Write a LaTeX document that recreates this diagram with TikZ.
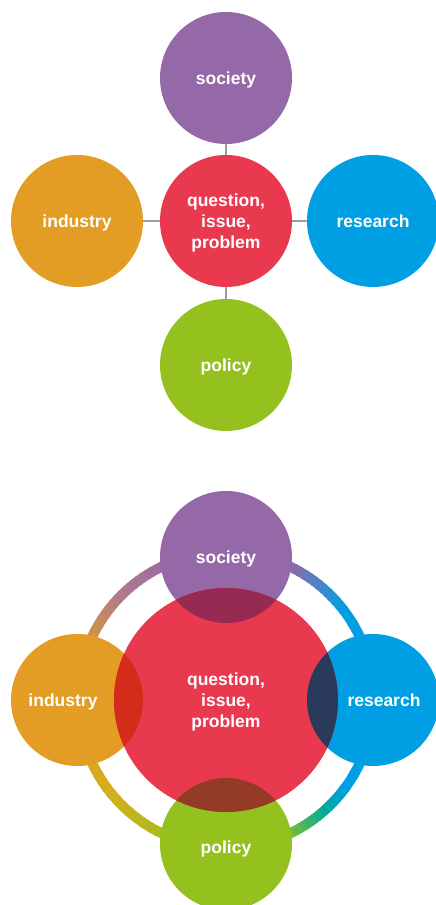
\documentclass[tikz,border=0pt]{standalone}
\usepackage{fontspec}
\setmainfont{Liberation Sans}

\definecolor{socpurple}{HTML}{9569A8}
\definecolor{qred}{HTML}{E8394F}
\definecolor{indorange}{HTML}{E39D24}
\definecolor{resblue}{HTML}{009FE3}
\definecolor{polgreen}{HTML}{95C11F}
\definecolor{linkgray}{HTML}{9D9D9D}
\definecolor{ringteal}{HTML}{00A99D}
\definecolor{ringyellow}{HTML}{D2AF1E}
\definecolor{ringmauve}{HTML}{B07B8C}
\definecolor{socq}{HTML}{962A52}
\definecolor{indq}{HTML}{D42B1A}
\definecolor{resq}{HTML}{293A5A}
\definecolor{polq}{HTML}{943B26}

% one stretch of the ring, from angle #1 to #2, colour #3 to #4
\newcommand{\ringpart}[4]{%
  \foreach \i in {0,...,11}{%
    \pgfmathsetmacro{\rings}{#1+(#2-#1)*\i/12}%
    \pgfmathsetmacro{\ringe}{#1+(#2-#1)*(\i+1.4)/12}%
    \pgfmathtruncatemacro{\ringp}{100*(\i+0.5)/12}%
    \draw[ring line,draw={#4!\ringp!#3}] ([shift={(\rings:148pt)}]ringc) arc[start angle=\rings,end angle=\ringe,radius=148pt];
  }}

\begin{document}
\begin{tikzpicture}[x=1pt,y=1pt]
            \tikzstyle{topic node}=[circle,inner sep=0,minimum size=132pt,text=white,text depth=0pt,font=\bfseries\fontsize{17.5}{21}\selectfont,align=center];
            \tikzstyle{topic text}=[inner sep=0,text=white,text depth=0pt,font=\bfseries\fontsize{17.5}{21}\selectfont];
            \tikzstyle{link}=[draw=linkgray,line width=2pt];
            \tikzstyle{ring line}=[line width=10pt];
            \useasboundingbox (0,0) rectangle (436,905);
            % top: the question with four links
            \node[topic node,fill=socpurple] (tsoc) at (226,827) {society};
            \node[topic node,fill=qred] (tq) at (226,684) {question,\\issue,\\problem};
            \node[topic node,fill=indorange] (tind) at (77,684) {industry};
            \node[topic node,fill=resblue] (tres) at (373,684) {research};
            \node[topic node,fill=polgreen] (tpol) at (226,540) {policy};
            \foreach \n in {tsoc,tind,tres,tpol} \draw[link] (tq) -- (\n);
            % bottom: the ring
            \coordinate (ringc) at (226,205);
            \ringpart{90}{65}{socpurple}{socpurple}
            \ringpart{65}{38}{socpurple}{resblue}
            \ringpart{38}{-35}{resblue}{resblue}
            \ringpart{-35}{-48}{resblue}{ringteal}
            \ringpart{-48}{-68}{ringteal}{polgreen}
            \ringpart{-68}{-100}{polgreen}{polgreen}
            \ringpart{-100}{-140}{polgreen}{ringyellow}
            \ringpart{-140}{-175}{ringyellow}{indorange}
            \ringpart{-175}{-195}{indorange}{indorange}
            \ringpart{-195}{-225}{indorange}{ringmauve}
            \ringpart{-225}{-250}{ringmauve}{socpurple}
            \ringpart{-250}{-270}{socpurple}{socpurple}
            \node[topic node,fill=socpurple] (bsoc) at (226,348) {society};
            \node[topic node,fill=indorange] (bind) at (77,205) {};
            \node[topic node,fill=resblue] (bres) at (373,205) {};
            \node[topic node,fill=polgreen] (bpol) at (226,61) {};
            \node[topic node,fill=qred,minimum size=224pt] (bq) at (ringc) {question,\\issue,\\problem};
            \begin{scope}
              \clip (bq.center) circle[radius=112pt];
              \fill[socq] (bsoc.center) circle[radius=66pt];
              \fill[indq] (bind.center) circle[radius=66pt];
              \fill[resq] (bres.center) circle[radius=66pt];
              \fill[polq] (bpol.center) circle[radius=66pt];
            \end{scope}
            \node[topic text] (bindt) at (63,205) {industry};
            \node[topic text] (brest) at (384,205) {research};
            \node[topic text] (bpolt) at (226,58) {policy};
\end{tikzpicture}
\end{document}
